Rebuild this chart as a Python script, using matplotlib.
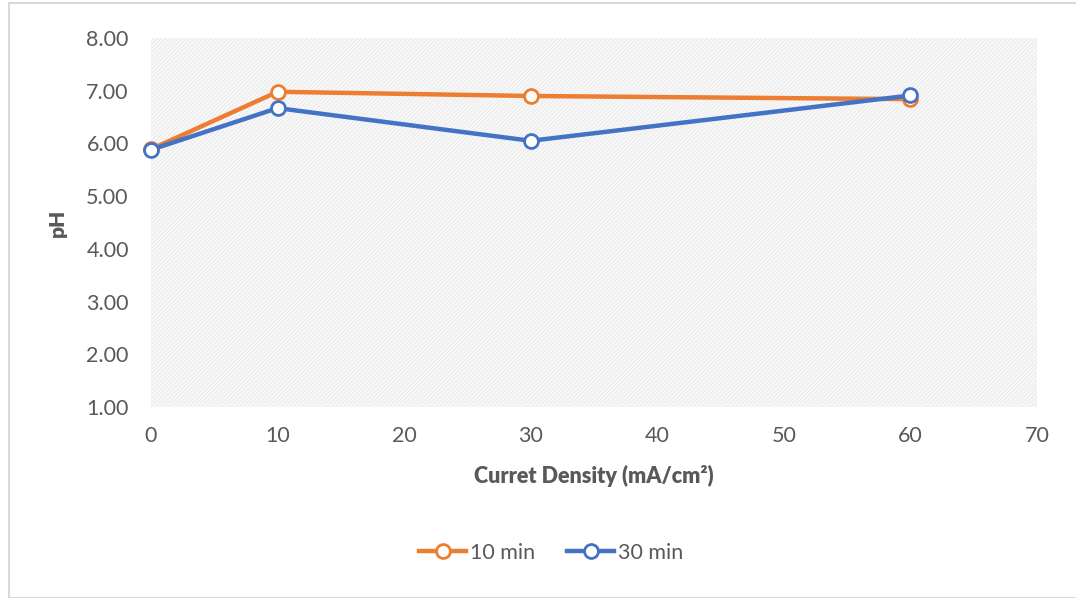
import matplotlib
matplotlib.use("Agg")
import matplotlib.pyplot as plt
from matplotlib.patches import Rectangle

current_density = [0, 10, 30, 60]
ph_10min = [5.89, 6.98, 6.90, 6.84]
ph_30min = [5.88, 6.67, 6.05, 6.91]
series_labels = ["10 min", "30 min"]
y_ticks = [1, 2, 3, 4, 5, 6, 7, 8]
x_ticks = [0, 10, 20, 30, 40, 50, 60, 70]

plt.rcParams['font.family'] = ['Lato', 'DejaVu Sans']
plt.rcParams['hatch.color'] = '#dedede'
plt.rcParams['hatch.linewidth'] = 0.5

fig = plt.figure(figsize=(10.76, 5.98), dpi=100)
# figure frame
fig.patches.append(Rectangle((9/1076, 0), 1.2, (598-3)/598, transform=fig.transFigure,
                             fill=False, edgecolor='#d9d9d9', linewidth=1.5))
ax = fig.add_axes([151/1076, (598-407)/598, (1037-151)/1076, (407-38)/598])
ax.set_facecolor('#f8f8f8')
ax.add_patch(Rectangle((0, 0), 1, 1, transform=ax.transAxes, facecolor='none',
                       hatch='////////', edgecolor='#e4e4e4', linewidth=0, zorder=0))

orange = '#ED7D31'
blue = '#4472C4'
ax.plot(current_density, ph_10min, color=orange, lw=3.2, marker='o', ms=10,
        mfc='white', mec=orange, mew=2, label=series_labels[0], zorder=3, clip_on=False)
ax.plot(current_density, ph_30min, color=blue, lw=3.2, marker='o', ms=10,
        mfc='white', mec=blue, mew=2, label=series_labels[1], zorder=4, clip_on=False)

ax.set_xlim(0, 70)
ax.set_ylim(1, 8)
ax.set_xticks(x_ticks)
ax.set_yticks(y_ticks)
ax.set_yticklabels([f"{v:.2f}" for v in y_ticks])
for s in ax.spines.values():
    s.set_visible(False)
ax.tick_params(length=0, labelsize=15.5, colors='#595959')
ax.tick_params(axis='y', pad=16)
ax.tick_params(axis='x', pad=14)

ax.set_xlabel("Curret Density (mA/cm²)", fontsize=15.5, fontweight='heavy', color='#595959', labelpad=13)
ax.set_ylabel("pH", fontsize=15, fontweight='heavy', color='#595959', labelpad=14)

leg = fig.legend(loc='center', bbox_to_anchor=(551/1076, 1-553/598), ncol=2, frameon=False,
                 fontsize=15.5, handlelength=2.2, columnspacing=1.5, handletextpad=0.15)
for t in leg.get_texts():
    t.set_color('#595959')

fig.savefig("out.png", dpi=100)
